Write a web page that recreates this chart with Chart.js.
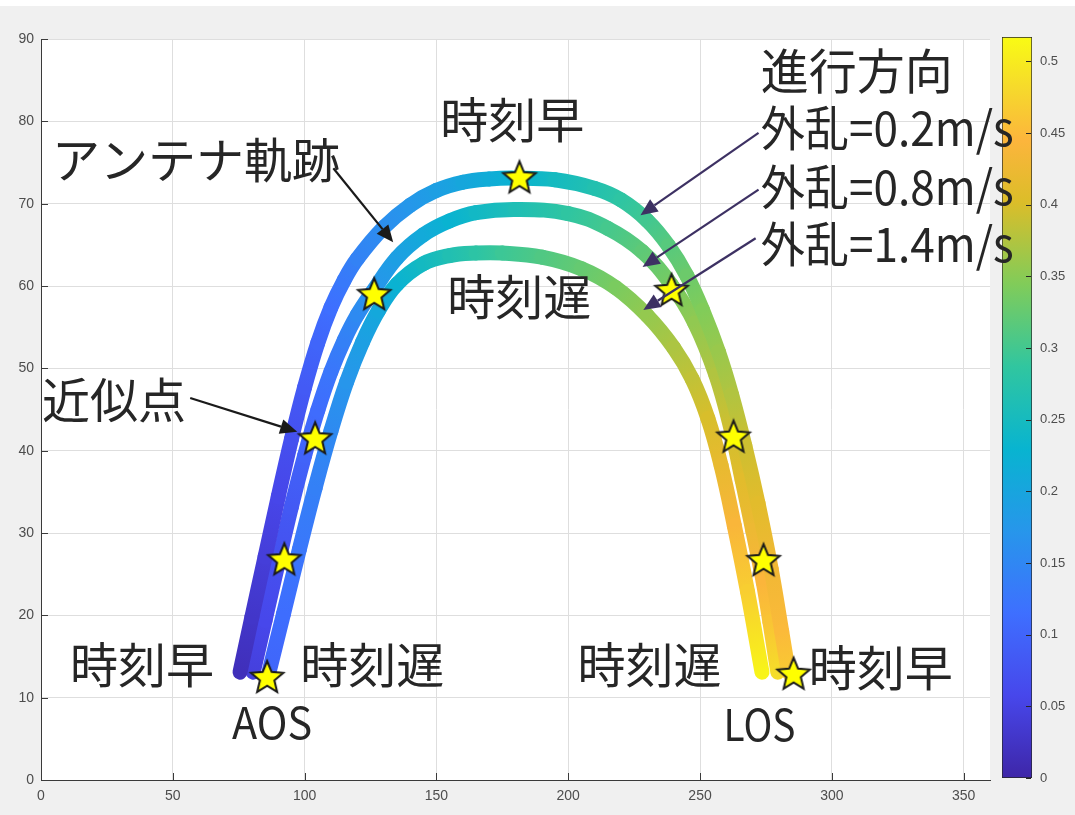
<!DOCTYPE html>
<html>
<head>
<meta charset="utf-8">
<script src="https://cdn.jsdelivr.net/npm/chart.js@4.4.0/dist/chart.umd.min.js"></script>
<style>
html,body{margin:0;padding:0;width:1075px;height:815px;overflow:hidden;background:#f0f0f0}
#topband{position:absolute;left:0;top:0;width:1075px;height:6px;background:#fff}
#cbar{position:absolute;left:1000px;top:0;z-index:0}
#main{position:absolute;left:0;top:0;z-index:1}
</style>
</head>
<body>
<div id="topband"></div>
<canvas id="cbar" width="75" height="815"></canvas>
<canvas id="main" width="1075" height="815"></canvas>
<script>
// antenna tracks, one per disturbance level: x, y and the colour value along the track
const trk02X=[75.5,80,85,90,95,100,105,110,115,120,130,140,150,160,170,180,195,210,220,230,238,245,251,257,262,267,272,277,281,283.5];
const trk02Y=[13.1,19.8,27.1,34.4,41.4,47.7,53.1,57.4,60.7,63.3,67.1,69.8,71.6,72.6,73.0,73.1,72.9,71.85,70.45,67.95,64.9,61.25,57.05,52.0,46.8,40.6,33.6,25.6,18.0,13.1];
const trk02T=[.015,.028,.042,.056,.07,.085,.1,.115,.13,.143,.16,.175,.19,.203,.215,.228,.248,.268,.283,.3,.315,.33,.345,.36,.375,.393,.41,.43,.45,.465];

const trk08X=[80.5,85,90,95,100,105,110,115,120,126,135,145,155,165,180,200,215,228,239,248,256,262,266,270,274,276.5,279.5];
const trk08Y=[13.1,19.4,26.4,33.2,39.4,44.9,49.6,53.4,56.5,59.4,63.4,66.2,67.9,68.9,69.3,68.8,67.0,64.2,60.2,55.5,49.2,42.3,36.4,30.3,24.0,19.2,13.1];
const trk08T=[.045,.057,.07,.083,.097,.11,.125,.14,.155,.17,.19,.21,.227,.243,.262,.285,.302,.32,.338,.355,.375,.395,.41,.425,.443,.46,.485];

const trk14X=[86.5,92,98,104,110,116,122,128,135,145,155,165,175,190,205,218,230,240,247,253,258,263,268,273.5];
const trk14Y=[13.1,20.2,28,35.5,42.4,48.4,53.2,57,60.2,62.7,63.7,64.0,64.0,63.5,62.1,59.8,56.4,52.5,48.7,43.9,38.2,30.9,22.9,13.1];
const trk14T=[.1,.112,.126,.14,.155,.172,.19,.207,.225,.247,.265,.28,.295,.31,.325,.34,.357,.372,.385,.4,.418,.44,.47,.51];

// approximation points (AOS ... LOS)
const starX=[85.8,92.3,104,126.4,181.5,239.2,262.7,274.1,285.5];
const starY=[12.5,26.8,41.5,59.0,73.2,59.5,41.7,26.7,12.9];

const cbarMax=0.517;

// parula-like colormap
const cmap=[[0,'#3e26a8'],[0.111,'#4747eb'],[0.222,'#3e6fff'],[0.333,'#2796eb'],[0.444,'#08b4d0'],
  [0.556,'#31c69f'],[0.667,'#81cc59'],[0.778,'#dcbd29'],[0.86,'#fcb53c'],[0.93,'#f6d92c'],[1,'#f9fb14']];
const hex=h=>[1,3,5].map(i=>parseInt(h.substr(i,2),16));
function tColor(t){
  const f=Math.min(Math.max(t/cbarMax,0),1);
  for(let i=1;i<cmap.length;i++){
    if(f<=cmap[i][0]){
      const [f0,c0]=cmap[i-1],[f1,c1]=cmap[i];
      const k=(f-f0)/(f1-f0),a=hex(c0),b=hex(c1);
      return 'rgb('+a.map((v,j)=>Math.round(v+(b[j]-v)*k)).join(',')+')';
    }
  }
  return cmap[cmap.length-1][1];
}

const notes=[
  {text:'進行方向',x:273,y:86.2},
  {text:'外乱=0.2m/s',x:273,y:79.2,w:253},
  {text:'外乱=0.8m/s',x:273,y:72.1,w:253},
  {text:'外乱=1.4m/s',x:273,y:65.1,w:253},
  {text:'時刻早',x:151.5,y:80.2},
  {text:'アンテナ軌跡',x:4.2,y:75.3},
  {text:'時刻遅',x:154.1,y:58.7},
  {text:'近似点',x:0.4,y:46.2},
  {text:'時刻早',x:11,y:14},
  {text:'時刻遅',x:98.3,y:14},
  {text:'AOS',x:72.5,y:7.0,size:43,w:80},
  {text:'時刻遅',x:203.5,y:14},
  {text:'時刻早',x:291.2,y:13.6},
  {text:'LOS',x:258.9,y:6.7,size:43,w:72}
];
const arrows=[
  {from:[110.9,74.3],to:[133.6,65.3],color:'#1a1a1a'},
  {from:[56.6,46.4],to:[97.2,42.3],color:'#1a1a1a'},
  {from:[272.2,78.6],to:[227.4,68.6],color:'#3d3163'},
  {from:[272.2,71.7],to:[228.2,62.3],color:'#3d3163'},
  {from:[271.1,65.8],to:[228.5,57.1],color:'#3d3163'}
];

function makeStar(){
  const c=document.createElement('canvas');c.width=40;c.height=40;
  const g=c.getContext('2d'),R=17,r=7.6,cx=20,cy=21;
  g.beginPath();
  for(let i=0;i<10;i++){const a=-Math.PI/2+i*Math.PI/5,rr=i%2?r:R;g.lineTo(cx+rr*Math.cos(a),cy+rr*Math.sin(a));}
  g.closePath();g.fillStyle='#ffff00';g.fill();g.lineWidth=2;g.strokeStyle='#1a1a1a';g.stroke();
  return c;
}

const pts=(xs,ys)=>xs.map((x,i)=>({x,y:ys[i]}));
function track(xs,ys,ts){
  return {data:pts(xs,ys),tvals:ts,pointRadius:0,borderWidth:15,tension:0.4,fill:false,
    borderCapStyle:'round',borderJoinStyle:'round',
    segment:{
      borderColor:ctx=>{
        const ds=ctx.chart.data.datasets[ctx.datasetIndex];
        const g=ctx.chart.ctx.createLinearGradient(ctx.p0.x,ctx.p0.y,ctx.p1.x,ctx.p1.y);
        g.addColorStop(0,tColor(ds.tvals[ctx.p0DataIndex]));
        g.addColorStop(1,tColor(ds.tvals[ctx.p1DataIndex]));
        return g;
      },
      // distinct offset per segment so every piece gets its own stroke
      borderDashOffset:ctx=>ctx.p0DataIndex*1e-3
    }};
}

const plotBg={id:'plotBg',beforeDraw(chart){
  const {ctx,chartArea:a}=chart;ctx.save();ctx.fillStyle='#fff';ctx.fillRect(a.left,a.top,a.width,a.height);ctx.restore();
}};
const innerTicks={id:'innerTicks',beforeDatasetsDraw(chart){
  const {ctx,chartArea:a,scales:{x:xs,y:ys}}=chart;
  ctx.save();ctx.strokeStyle='#3a3a3a';ctx.lineWidth=1;ctx.beginPath();
  xs.ticks.forEach(t=>{const p=Math.round(xs.getPixelForValue(t.value))+0.5;ctx.moveTo(p,a.bottom);ctx.lineTo(p,a.bottom-7);});
  ys.ticks.forEach(t=>{const p=Math.round(ys.getPixelForValue(t.value))+0.5;ctx.moveTo(a.left,p);ctx.lineTo(a.left+7,p);});
  ctx.stroke();ctx.restore();
}};
const annot={id:'annot',afterDatasetsDraw(chart){
  const {ctx,scales:{x:xs,y:ys}}=chart;
  ctx.save();
  arrows.forEach(a=>{
    const x0=xs.getPixelForValue(a.from[0]),y0=ys.getPixelForValue(a.from[1]);
    const x1=xs.getPixelForValue(a.to[0]),y1=ys.getPixelForValue(a.to[1]);
    const ang=Math.atan2(y1-y0,x1-x0),L=17,W=7.5;
    const bx=x1-L*Math.cos(ang),by=y1-L*Math.sin(ang);
    ctx.strokeStyle=a.color;ctx.fillStyle=a.color;ctx.lineWidth=2.2;
    ctx.beginPath();ctx.moveTo(x0,y0);ctx.lineTo(bx,by);ctx.stroke();
    ctx.beginPath();ctx.moveTo(x1,y1);
    ctx.lineTo(bx+W*Math.sin(ang),by-W*Math.cos(ang));
    ctx.lineTo(bx-W*Math.sin(ang),by+W*Math.cos(ang));
    ctx.closePath();ctx.fill();
  });
  ctx.fillStyle='#262626';ctx.textBaseline='middle';ctx.textAlign='left';
  notes.forEach(n=>{
    ctx.font=(n.size||48)+'px "Noto Sans CJK JP"';
    const px=xs.getPixelForValue(n.x),py=ys.getPixelForValue(n.y);
    if(n.w)ctx.fillText(n.text,px,py,n.w);else ctx.fillText(n.text,px,py);
  });
  ctx.restore();
}};

const tickFont={family:'"Liberation Sans", Arial, sans-serif',size:14};

new Chart(document.getElementById('main'),{
  type:'line',
  data:{datasets:[
    {data:pts(starX,starY),pointStyle:makeStar(),pointRadius:17,showLine:false},
    track(trk02X,trk02Y,trk02T),
    track(trk08X,trk08Y,trk08T),
    track(trk14X,trk14Y,trk14T)
  ]},
  options:{
    responsive:false,animation:false,events:[],
    layout:{padding:{top:39,right:85,left:0,bottom:0}},
    plugins:{legend:{display:false},tooltip:{enabled:false}},
    scales:{
      x:{type:'linear',min:0,max:360,afterFit:s=>{s.height=35},
        ticks:{stepSize:50,includeBounds:false,padding:8,color:'#4d4d4d',font:tickFont,maxRotation:0},
        grid:{color:'#dedede',drawTicks:false},border:{color:'#3a3a3a'}},
      y:{min:0,max:90,afterFit:s=>{s.width=41},
        ticks:{stepSize:10,padding:7,color:'#4d4d4d',font:tickFont},
        grid:{color:'#dedede',drawTicks:false},border:{color:'#3a3a3a'}}
    }
  },
  plugins:[plotBg,innerTicks,annot]
});

// colour bar
const cbarTicks={id:'cbarTicks',afterDatasetsDraw(chart){
  const {ctx,chartArea:a,scales:{y:ys}}=chart;
  ctx.save();ctx.strokeStyle='#262626';ctx.lineWidth=1;ctx.beginPath();
  ys.ticks.forEach(t=>{const p=Math.round(ys.getPixelForValue(t.value))+0.5;ctx.moveTo(a.right-1,p);ctx.lineTo(a.right-6,p);});
  ctx.stroke();ctx.restore();
}};
new Chart(document.getElementById('cbar'),{
  type:'bar',
  data:{labels:[''],datasets:[{data:[cbarMax],
    backgroundColor:ctx=>{
      const a=ctx.chart.chartArea;if(!a)return '#888';
      const g=ctx.chart.ctx.createLinearGradient(0,a.bottom,0,a.top);
      cmap.forEach(([f,c])=>g.addColorStop(f,c));
      return g;
    },
    borderColor:'#262626',borderWidth:1,borderSkipped:false,barPercentage:1,categoryPercentage:1}]},
  options:{
    responsive:false,animation:false,events:[],
    layout:{padding:{left:2,top:37,bottom:37,right:0}},
    plugins:{legend:{display:false},tooltip:{enabled:false}},
    scales:{
      x:{display:false},
      y:{position:'right',min:0,max:cbarMax,afterFit:s=>{s.width=43},
        ticks:{stepSize:0.05,includeBounds:false,padding:8,color:'#4d4d4d',
          font:{family:'"Liberation Sans", Arial, sans-serif',size:13},callback:v=>String(+v.toFixed(2))},
        grid:{display:false,drawTicks:false},border:{display:false}}
    }
  },
  plugins:[cbarTicks]
});
</script>
</body>
</html>
